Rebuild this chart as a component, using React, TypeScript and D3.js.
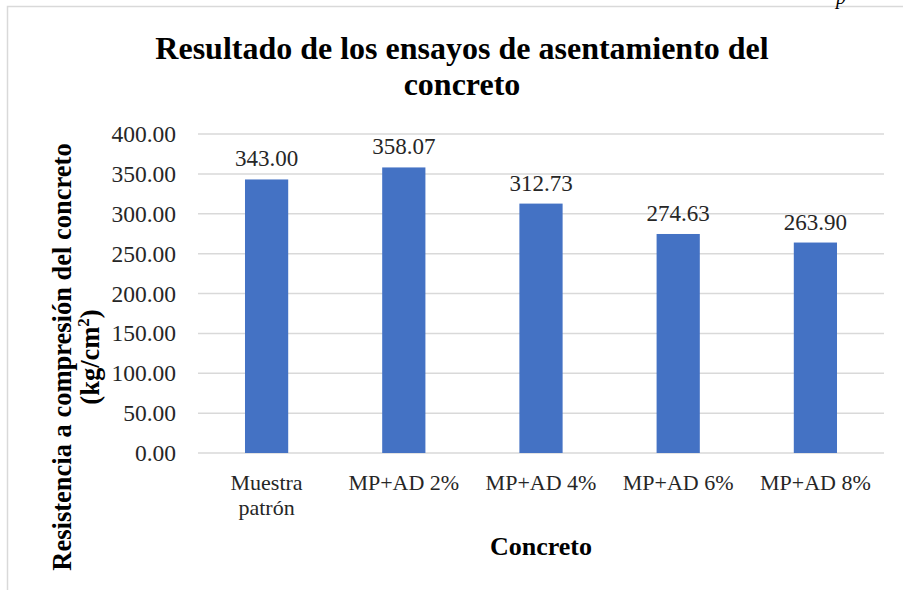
import * as d3 from 'd3';
import { useEffect, useRef } from 'react';

const categories = [['Muestra', 'patrón'], ['MP+AD 2%'], ['MP+AD 4%'], ['MP+AD 6%'], ['MP+AD 8%']];
const values = [343.0, 358.07, 312.73, 274.63, 263.9];
const yTicks = [0, 50, 100, 150, 200, 250, 300, 350, 400];

const font = '"Liberation Serif", "Times New Roman", serif';

function App() {
  const svgRef = useRef<SVGSVGElement>(null);

  useEffect(() => {
    const svg = d3.select(svgRef.current);
    svg.selectAll('*').remove();

    const width = 903;
    const height = 590;
    const margin = { top: 134, right: 19, bottom: 137, left: 198 };

    svg.attr('width', width).attr('height', height).style('display', 'block');

    svg.append('rect').attr('width', width).attr('height', height).attr('fill', '#fff');

    // frame of the chart area
    svg.append('rect')
      .attr('x', 7.5).attr('y', 6.5)
      .attr('width', 920).attr('height', 620)
      .attr('fill', 'none').attr('stroke', '#d9d9d9').attr('stroke-width', 1.5);

    svg.append('text')
      .attr('x', 836).attr('y', 4)
      .attr('font-family', font).attr('font-style', 'italic')
      .attr('font-size', 20).attr('fill', '#000')
      .text('p');

    const x = d3.scaleBand<number>()
      .domain(d3.range(values.length))
      .range([margin.left, width - margin.right])
      .paddingInner(0.685)
      .paddingOuter(0.3425);

    const y0 = height - margin.bottom;
    const y = d3.scaleLinear()
      .domain([0, 400])
      .range([y0, margin.top]);

    svg.append('g')
      .selectAll('line')
      .data(yTicks)
      .join('line')
      .attr('x1', margin.left).attr('x2', width - margin.right)
      .attr('y1', d => y(d)).attr('y2', d => y(d))
      .attr('stroke', '#d9d9d9').attr('stroke-width', 1.5);

    svg.append('g')
      .selectAll('text')
      .data(yTicks)
      .join('text')
      .attr('x', 176).attr('y', d => y(d) + 8)
      .attr('text-anchor', 'end')
      .attr('font-family', font).attr('font-size', 23.5).attr('fill', '#262626')
      .text(d => d.toFixed(2));

    svg.append('g')
      .selectAll('rect')
      .data(values)
      .join('rect')
      .attr('x', (_, i) => x(i)!)
      .attr('y', d => y(d))
      .attr('width', x.bandwidth())
      .attr('height', d => y0 - y(d))
      .attr('fill', '#4472c4');

    svg.append('g')
      .selectAll('text')
      .data(values)
      .join('text')
      .attr('x', (_, i) => x(i)! + x.bandwidth() / 2)
      .attr('y', d => y(d) - 13)
      .attr('text-anchor', 'middle')
      .attr('font-family', font).attr('font-size', 23).attr('fill', '#262626')
      .text(d => d.toFixed(2));

    const cat = svg.append('g')
      .selectAll('text')
      .data(categories)
      .join('text')
      .attr('x', (_, i) => x(i)! + x.bandwidth() / 2)
      .attr('y', 490)
      .attr('text-anchor', 'middle')
      .attr('font-family', font).attr('font-size', 22).attr('fill', '#262626');
    cat.selectAll('tspan')
      .data(d => d)
      .join('tspan')
      .attr('x', function () { return (this.parentNode as SVGTextElement).getAttribute('x'); })
      .attr('dy', (_, j) => (j === 0 ? 0 : 25))
      .text(d => d);

    // titles
    const title = svg.append('text')
      .attr('text-anchor', 'middle')
      .attr('font-family', font).attr('font-weight', 'bold')
      .attr('font-size', 32).attr('fill', '#000');
    title.append('tspan').attr('x', 462).attr('y', 59).text('Resultado de los ensayos de asentamiento del');
    title.append('tspan').attr('x', 462).attr('y', 95).text('concreto');

    svg.append('text')
      .attr('x', 541).attr('y', 555)
      .attr('text-anchor', 'middle')
      .attr('font-family', font).attr('font-weight', 'bold')
      .attr('font-size', 26).attr('fill', '#000')
      .text('Concreto');

    const yt = svg.append('text')
      .attr('transform', 'translate(0,357) rotate(-90)')
      .attr('text-anchor', 'middle')
      .attr('font-family', font).attr('font-weight', 'bold')
      .attr('font-size', 26.5).attr('fill', '#000');
    yt.append('tspan').attr('x', 0).attr('y', 71).text('Resistencia a compresión del concreto');
    const l2 = yt.append('tspan').attr('x', 0).attr('y', 99);
    l2.append('tspan').text('(kg/cm');
    l2.append('tspan').attr('font-size', 17).attr('dy', -10).text('2');
    l2.append('tspan').attr('dy', 10).text(')');
  }, []);

  return <svg ref={svgRef} style={{ position: 'absolute', left: 0, top: 0 }} />;
}

export default App;
